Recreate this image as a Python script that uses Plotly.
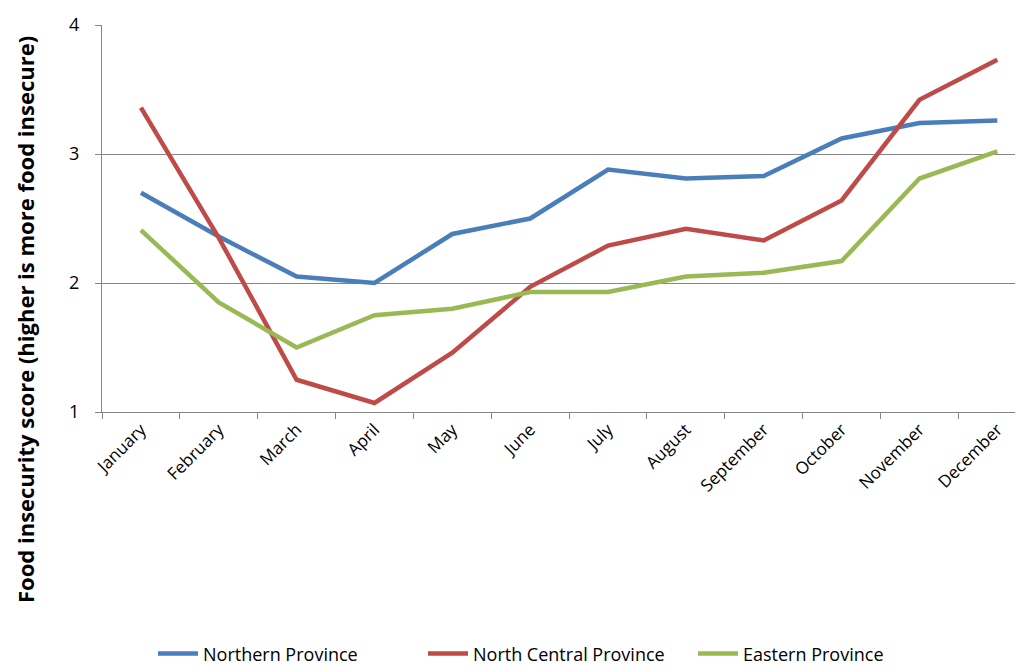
import plotly.graph_objects as go

months = ["January", "February", "March", "April", "May", "June", "July",
          "August", "September", "October", "November", "December"]
northern = [2.70, 2.36, 2.05, 2.00, 2.38, 2.50, 2.88, 2.81, 2.83, 3.12, 3.24, 3.26]
north_central = [3.36, 2.35, 1.25, 1.07, 1.46, 1.97, 2.29, 2.42, 2.33, 2.64, 3.42, 3.73]
eastern = [2.41, 1.85, 1.50, 1.75, 1.80, 1.93, 1.93, 2.05, 2.08, 2.17, 2.81, 3.02]

series = [
    ("Northern Province", northern, "#4A7EBB"),
    ("North Central Province", north_central, "#BE4B48"),
    ("Eastern Province", eastern, "#98B954"),
]

FONT = "Open Sans"
fig = go.Figure()
for name, vals, col in series:
    fig.add_trace(go.Scatter(x=months, y=vals, mode="lines", name=name,
                             line=dict(color=col, width=4.5)))

# page body adds an 8px offset; layout compensates
fig.update_layout(
    width=1015, height=662,
    paper_bgcolor="white", plot_bgcolor="white",
    margin=dict(l=94, r=0, t=17, b=258, autoexpand=False),
    font=dict(family=FONT, size=15, color="black"),
    showlegend=True,
    legend=dict(orientation="h", x=(145 - 94) / 921, xanchor="left", y=-0.625, yanchor="middle",
                font=dict(size=18, family=FONT), entrywidth=215, itemwidth=40),
)
fig.update_xaxes(
    type="category", range=[-0.5, 11.33], tickangle=-45, automargin=False,
    showline=True, linecolor="#868686", linewidth=1,
    ticks="outside", tickcolor="#868686", ticklen=6, tickson="boundaries",
    showgrid=False, tickfont=dict(size=17, family=FONT),
)
fig.update_yaxes(
    range=[1, 4], tickvals=[1, 2, 3, 4], showgrid=True, gridcolor="#868686", gridwidth=1,
    showline=True, linecolor="#868686", linewidth=1, zeroline=False, automargin=False,
    ticks="outside", tickcolor="#868686", ticklen=6, ticklabelstandoff=12,
    tickfont=dict(size=18, family=FONT),
)
fig.add_annotation(
    text="<b>Food insecurity score (higher is more food insecure)</b>",
    xref="paper", yref="paper", x=(17 - 94) / 921, y=(404 - 312) / 387,
    showarrow=False, textangle=-90, font=dict(size=22, family=FONT, color="black"),
    xanchor="center", yanchor="middle",
)
fig.write_html("out.html")
